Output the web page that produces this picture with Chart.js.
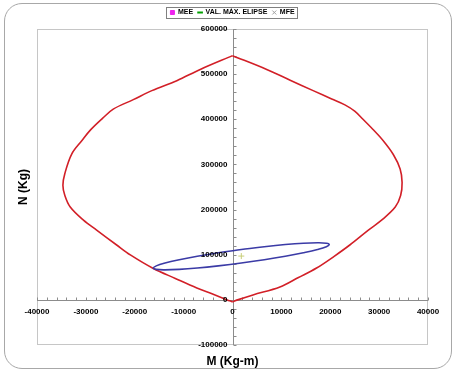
<!DOCTYPE html>
<html>
<head>
<meta charset="utf-8">
<script src="https://cdn.jsdelivr.net/npm/chart.js@4.4.1/dist/chart.umd.min.js"></script>
<style>
html,body{margin:0;padding:0;background:#fff;}
#wrap{position:relative;width:458px;height:375px;overflow:hidden;}
#frame{position:absolute;left:4px;top:3px;width:446px;height:364px;border:1.5px solid #a8a8a8;border-radius:18px;}
#c{position:absolute;left:0;top:0;}
</style>
</head>
<body>
<div id="wrap"><div id="frame"></div><canvas id="c" width="458" height="375"></canvas></div>
<script>
// ---- data ----
const leftM  = [0, -1200, -4200, -7300, -11700, -16200, -20900, -23700, -27800, -30500, -33200, -34300, -34700, -34300, -32900, -30800, -29000, -26600, -24400, -20300, -16500, -11400, -6600, 0];
const leftN  = [-4500, 500, 13500, 26500, 47500, 69500, 99500, 121500, 154500, 176500, 205500, 231000, 254000, 280000, 323000, 353000, 377000, 402000, 422500, 443500, 463500, 485500, 510500, 541000];
const rightM = [0, 1200, 4200, 9700, 13500, 17200, 20800, 24000, 27800, 30500, 33300, 34400, 34700, 34300, 32900, 30800, 28700, 26700, 25000, 23000, 20300, 16500, 11800, 7000, 0];
const rightN = [-4500, 500, 11000, 28500, 49500, 70500, 96500, 121500, 154500, 176500, 205500, 231000, 260000, 290000, 322000, 353000, 378000, 400000, 418000, 432000, 445000, 463500, 486500, 510500, 541000];
const ellipseM = [1800, -2900, -7200, -10900, -13800, -15600, -16200, -15600, -13800, -10900, -7200, -2900, 1800, 6500, 10800, 14500, 17400, 19200, 19800, 19200, 17400, 14500, 10800, 6500, 1800];
const ellipseN = [111500, 104300, 96500, 88700, 81500, 75300, 70500, 67500, 66500, 67500, 70500, 75300, 81500, 88700, 96500, 104300, 111500, 117700, 122500, 125500, 126500, 125500, 122500, 117700, 111500];
const mfeM = [1800];
const mfeN = [97000];
const xTickLabels = [-40000, -30000, -20000, -10000, 0, 10000, 20000, 30000, 40000];
const yTickLabels = [-100000, 0, 100000, 200000, 300000, 400000, 500000, 600000];
const legendNames = ['MEE', 'VAL. MÁX. ELIPSE', 'MFE'];
const xTitle = 'M (Kg-m)';
const yTitle = 'N (Kg)';

const pts = (ms, ns) => ms.map((m, i) => ({x: m, y: ns[i]}));
const FONT = 'Arial, "Liberation Sans", sans-serif';

const excelAxes = {
  id: 'excelAxes',
  beforeDatasetsDraw(chart) {
    const {ctx, chartArea: a, scales: {x, y}} = chart;
    ctx.save();
    ctx.strokeStyle = '#c6c6c6';
    ctx.lineWidth = 1;
    ctx.strokeRect(Math.round(a.left) + 0.5, Math.round(a.top) + 0.5, Math.round(a.right - a.left) - 1, Math.round(a.bottom - a.top) - 1);
    const x0 = Math.round(x.getPixelForValue(0)) + 0.5;
    const y0 = Math.round(y.getPixelForValue(0)) + 0.5;
    ctx.strokeStyle = '#8c8c8c';
    ctx.beginPath();
    ctx.moveTo(a.left, y0); ctx.lineTo(a.right, y0);
    ctx.moveTo(x0, a.top); ctx.lineTo(x0, a.bottom);
    const xs = (x.max - x.min) / 40, ys = (y.max - y.min) / 35;
    for (let k = 0; k <= 40; k++) {
      const px = Math.round(x.getPixelForValue(x.min + k * xs)) + 0.5;
      ctx.moveTo(px, y0); ctx.lineTo(px, y0 - 3);
    }
    for (let k = 0; k <= 35; k++) {
      const py = Math.round(y.getPixelForValue(y.min + k * ys)) + 0.5;
      ctx.moveTo(x0, py); ctx.lineTo(x0 + 3, py);
    }
    ctx.stroke();
    ctx.restore();
  },
  afterDatasetsDraw(chart) {
    const {ctx, scales: {x, y}} = chart;
    const x0 = x.getPixelForValue(0), y0 = y.getPixelForValue(0);
    ctx.save();
    ctx.fillStyle = '#000';
    ctx.font = 'bold 8px ' + FONT;
    ctx.textAlign = 'right'; ctx.textBaseline = 'middle';
    yTickLabels.forEach(v => ctx.fillText(String(v), x0 - 5, y.getPixelForValue(v)));
    ctx.textAlign = 'center';
    xTickLabels.forEach(v => ctx.fillText(String(v), x.getPixelForValue(v), y0 + 11.5));
    ctx.restore();
  },
  afterDraw(chart) {
    const {ctx, chartArea: a} = chart;
    ctx.save();
    ctx.fillStyle = '#000';
    ctx.font = 'bold 12px ' + FONT;
    ctx.textAlign = 'center'; ctx.textBaseline = 'middle';
    ctx.fillText(xTitle, chart.scales.x.getPixelForValue(0), 362);
    ctx.translate(24, (a.top + a.bottom) / 2);
    ctx.rotate(-Math.PI / 2);
    ctx.fillText(yTitle, 0, 0);
    ctx.restore();
    const hb = chart.legend.legendHitBoxes;
    if (hb && hb.length) {
      const l = hb[0].left - 4, last = hb[hb.length - 1];
      const r = last.left + last.width + 3;
      const t = hb[0].top - 2, b = hb[0].top + hb[0].height + 2;
      ctx.save();
      ctx.strokeStyle = '#808080'; ctx.lineWidth = 1;
      ctx.strokeRect(Math.round(l) + 0.5, Math.round(t) + 0.5, Math.round(r - l), Math.round(b - t));
      ctx.restore();
    }
  }
};

new Chart(document.getElementById('c'), {
  type: 'scatter',
  data: {
    datasets: [
      {label: legendNames[0], data: [], pointStyle: 'rect', backgroundColor: '#ee22ee', borderColor: '#ee22ee', borderWidth: 1},
      {label: legendNames[1], data: [], pointStyle: 'line', backgroundColor: '#00a000', borderColor: '#00a000', borderWidth: 2},
      {label: legendNames[2], data: pts(mfeM, mfeN), pointStyle: 'cross', pointRadius: 3, borderColor: '#c8ce78', backgroundColor: '#c8ce78', borderWidth: 1},
      {label: 'ellipse', data: pts(ellipseM, ellipseN), showLine: true, pointRadius: 0, borderColor: '#3b3ba6', backgroundColor: '#3b3ba6', borderWidth: 1.6, tension: 0.4},
      {label: 'left', data: pts(leftM, leftN), showLine: true, pointRadius: 0, borderColor: '#d21f27', backgroundColor: '#d21f27', borderWidth: 1.6, tension: 0.35},
      {label: 'right', data: pts(rightM, rightN), showLine: true, pointRadius: 0, borderColor: '#d21f27', backgroundColor: '#d21f27', borderWidth: 1.6, tension: 0.35}
    ]
  },
  options: {
    responsive: false,
    animation: false,
    layout: {padding: {left: 37, right: 30, top: 4, bottom: 30}},
    scales: {
      x: {type: 'linear', min: -40000, max: 40000, position: 'top', display: true,
          ticks: {display: false}, grid: {display: false, drawTicks: false}, border: {display: false},
          afterFit(s) { s.height = 3; }},
      y: {type: 'linear', min: -100000, max: 600000, display: false}
    },
    plugins: {
      tooltip: {enabled: false},
      legend: {
        display: true,
        position: 'top',
        labels: {
          usePointStyle: true,
          boxWidth: 4,
          boxHeight: 4,
          padding: 5,
          color: '#000',
          font: {family: FONT, size: 7, weight: 'bold'},
          generateLabels(chart) {
            const items = Chart.defaults.plugins.legend.labels.generateLabels(chart);
            items.forEach(it => { if (it.text === 'MFE') { it.pointStyle = 'crossRot'; it.strokeStyle = '#a0a0a0'; it.lineWidth = 1; } });
            return items;
          },
          filter: item => legendNames.includes(item.text)
        }
      }
    }
  },
  plugins: [excelAxes]
});
</script>
</body>
</html>
